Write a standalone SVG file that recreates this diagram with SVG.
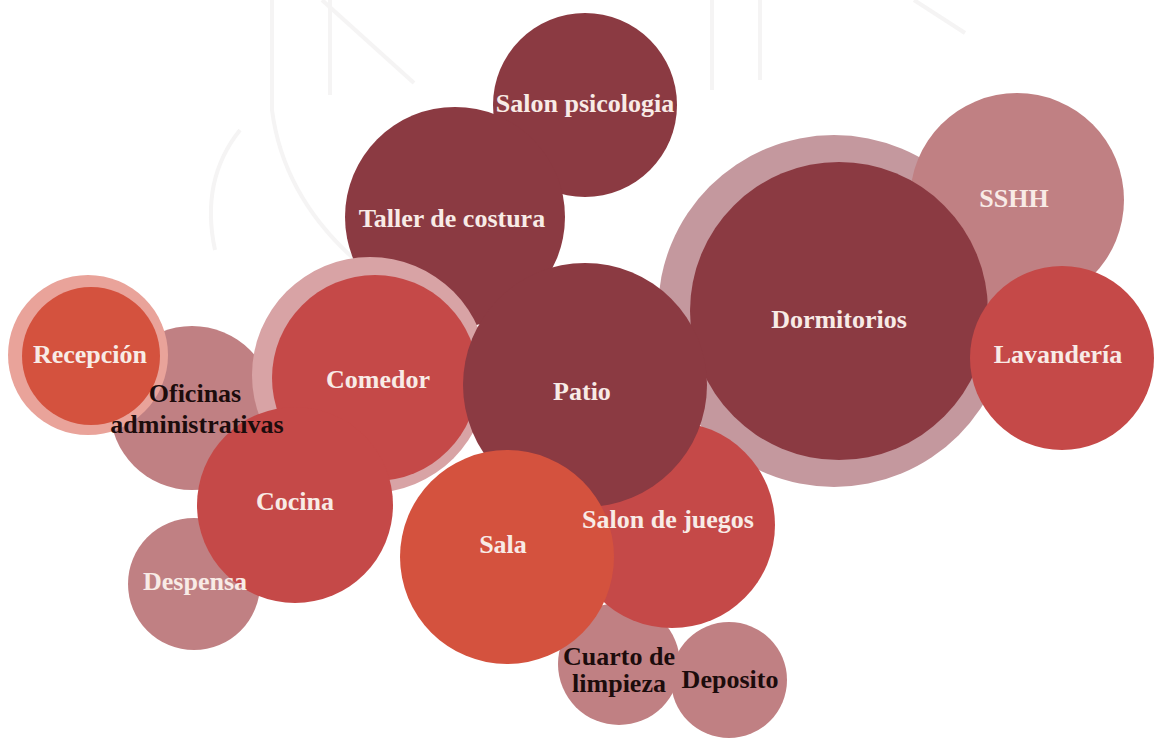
<svg xmlns="http://www.w3.org/2000/svg" width="1160" height="738" viewBox="0 0 1160 738">
<style>
.maroon{fill:#8b3a42}
.red{fill:#c54948}
.orange{fill:#d4523e}
.pink{fill:#c08083}
.lt{font-family:"Liberation Serif","Times New Roman",serif;font-weight:bold;font-size:26px;fill:#f8ebe6;text-anchor:middle}
.dk{font-family:"Liberation Serif","Times New Roman",serif;font-weight:bold;font-size:26px;fill:#1c0c0c;text-anchor:middle}
.wm{fill:none;stroke:#f5f4f4;stroke-width:4}
</style>
<rect width="1160" height="738" fill="#ffffff"/>
<g id="watermark">
<path class="wm" d="M272 0 L272 110 Q285 210 380 280"/>
<path class="wm" d="M330 0 L330 95"/>
<path class="wm" d="M322 0 L414 83"/>
<path class="wm" d="M712 0 L712 90"/>
<path class="wm" d="M760 0 L760 80"/>
<path class="wm" d="M914 0 L965 33"/>
<path class="wm" d="M215 250 Q200 180 240 130"/>
</g>
<g id="connectors"></g>
<g id="n-dormitorios-ring"><circle cx="834" cy="311" r="176" fill="#c4989e"/></g>
<g id="n-sshh"><circle class="pink" cx="1017" cy="200" r="107"/></g>
<g id="n-dormitorios"><circle class="maroon" cx="839" cy="311" r="149"/></g>
<g id="n-lavanderia"><circle class="red" cx="1062" cy="358" r="92"/></g>
<g id="n-salon-psicologia"><circle class="maroon" cx="585" cy="105" r="92"/></g>
<g id="n-taller"><circle class="maroon" cx="455" cy="217" r="110"/></g>
<g id="n-oficinas"><circle class="pink" cx="192" cy="408" r="82"/></g>
<g id="n-recepcion"><circle cx="88" cy="355" r="80" fill="#e9a39a"/><circle class="orange" cx="91" cy="356" r="69"/></g>
<g id="n-comedor"><circle cx="370" cy="375" r="118" fill="#d8a3a5"/><circle class="red" cx="375" cy="378" r="103"/></g>
<g id="n-despensa"><circle class="pink" cx="194" cy="584" r="66"/></g>
<g id="n-cocina"><circle class="red" cx="295" cy="505" r="98"/></g>
<g id="n-cuarto"><circle class="pink" cx="619" cy="664" r="61"/></g>
<g id="n-deposito"><circle class="pink" cx="729" cy="680" r="58"/></g>
<g id="n-salon-juegos"><circle class="red" cx="672" cy="525" r="103"/></g>
<g id="n-patio"><circle class="maroon" cx="585" cy="385" r="122"/></g>
<g id="n-sala"><circle class="orange" cx="507" cy="557" r="107"/></g>
<g id="labels">
<text class="lt" x="585" y="112">Salon psicologia</text>
<text class="lt" x="452" y="227">Taller de costura</text>
<text class="lt" x="839" y="328">Dormitorios</text>
<text class="lt" x="1014" y="207">SSHH</text>
<text class="lt" x="1058" y="363">Lavandería</text>
<text class="lt" x="582" y="400">Patio</text>
<text class="lt" x="378" y="388">Comedor</text>
<text class="lt" x="90" y="363">Recepción</text>
<text class="dk" x="195" y="402">Oficinas</text>
<text class="dk" x="197" y="433">administrativas</text>
<text class="lt" x="295" y="510">Cocina</text>
<text class="lt" x="195" y="590">Despensa</text>
<text class="lt" x="503" y="553">Sala</text>
<text class="lt" x="668" y="528">Salon de juegos</text>
<text class="dk" x="619" y="665">Cuarto de</text>
<text class="dk" x="619" y="692">limpieza</text>
<text class="dk" x="730" y="688">Deposito</text>
</g>
</svg>
